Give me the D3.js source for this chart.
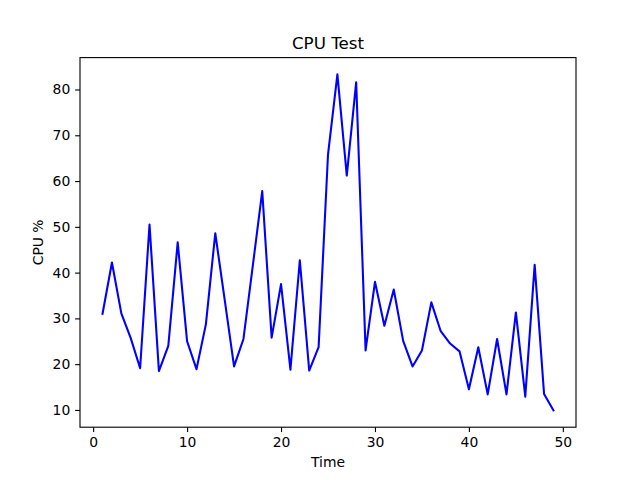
<!DOCTYPE html>
<html><head><meta charset="utf-8">
<script src="https://cdn.jsdelivr.net/npm/d3@7"></script>
<style>body{margin:0;background:#fff}svg{display:block}text{font-family:"DejaVu Sans",sans-serif;fill:#000}</style>
</head><body>
<script>
const times = d3.range(1, 50);
const cpu = [31.0, 42.2, 31.1, 25.7, 19.1, 50.5, 18.5, 24.0, 46.6, 25.0,
             18.9, 28.7, 48.6, 34.1, 19.5, 25.5, 41.6, 57.8, 25.8, 37.5,
             18.8, 42.7, 18.6, 23.7, 65.8, 83.3, 61.2, 81.6, 23.0, 38.0,
             28.4, 36.3, 25.1, 19.5, 23.0, 33.5, 27.2, 24.5, 22.8, 14.5,
             23.7, 13.4, 25.5, 13.4, 31.3, 12.9, 41.7, 13.5, 9.9];
const xTicks = [0, 10, 20, 30, 40, 50];
const yTicks = [10, 20, 30, 40, 50, 60, 70, 80];
const title = "CPU Test", xLabel = "Time", yLabel = "CPU %";

const W = 640, H = 480;
const L = 80, R = 576, T = 57.6, B = 427.2;
const svg = d3.select("body").append("svg").attr("width", W).attr("height", H);

const xmin = d3.min(times), xmax = d3.max(times);
const ymin = d3.min(cpu), ymax = d3.max(cpu);
const xp = (xmax - xmin) * 0.05, yp = (ymax - ymin) * 0.05;
const x = d3.scaleLinear().domain([xmin - xp, xmax + xp]).range([L, R]);
const y = d3.scaleLinear().domain([ymin - yp, ymax + yp]).range([B, T]);

const line = d3.line().x((d, i) => x(times[i])).y(d => y(d));
svg.append("path").datum(cpu).attr("d", line)
  .attr("fill", "none").attr("stroke", "#0000ff").attr("stroke-width", 2.08)
  .attr("stroke-linejoin", "round").attr("stroke-linecap", "square");

const fs = 13.9;
const xa = svg.append("g").attr("transform", `translate(0,${B})`)
  .call(d3.axisBottom(x).tickValues(xTicks).tickFormat(d3.format("d")).tickSize(4.86).tickPadding(4.86));
const ya = svg.append("g").attr("transform", `translate(${L},0)`)
  .call(d3.axisLeft(y).tickValues(yTicks).tickFormat(d3.format("d")).tickSize(4.86).tickPadding(4.86));
[xa, ya].forEach(g => {
  g.select(".domain").remove();
  g.selectAll(".tick line").attr("stroke", "#000").attr("stroke-width", 1.11);
  g.selectAll(".tick text").attr("font-size", fs).attr("font-family", "DejaVu Sans");
});

svg.append("rect").attr("x", L).attr("y", T).attr("width", R - L).attr("height", B - T)
  .attr("fill", "none").attr("stroke", "#000").attr("stroke-width", 1.11);

svg.append("text").attr("x", (L + R) / 2).attr("y", T - 8.3).attr("text-anchor", "middle")
  .attr("font-size", 16.7).text(title);
svg.append("text").attr("x", (L + R) / 2).attr("y", 467).attr("text-anchor", "middle")
  .attr("font-size", fs).text(xLabel);
svg.append("text").attr("transform", `translate(43,${(T + B) / 2}) rotate(-90)`).attr("text-anchor", "middle")
  .attr("font-size", fs).text(yLabel);
</script>
</body></html>
